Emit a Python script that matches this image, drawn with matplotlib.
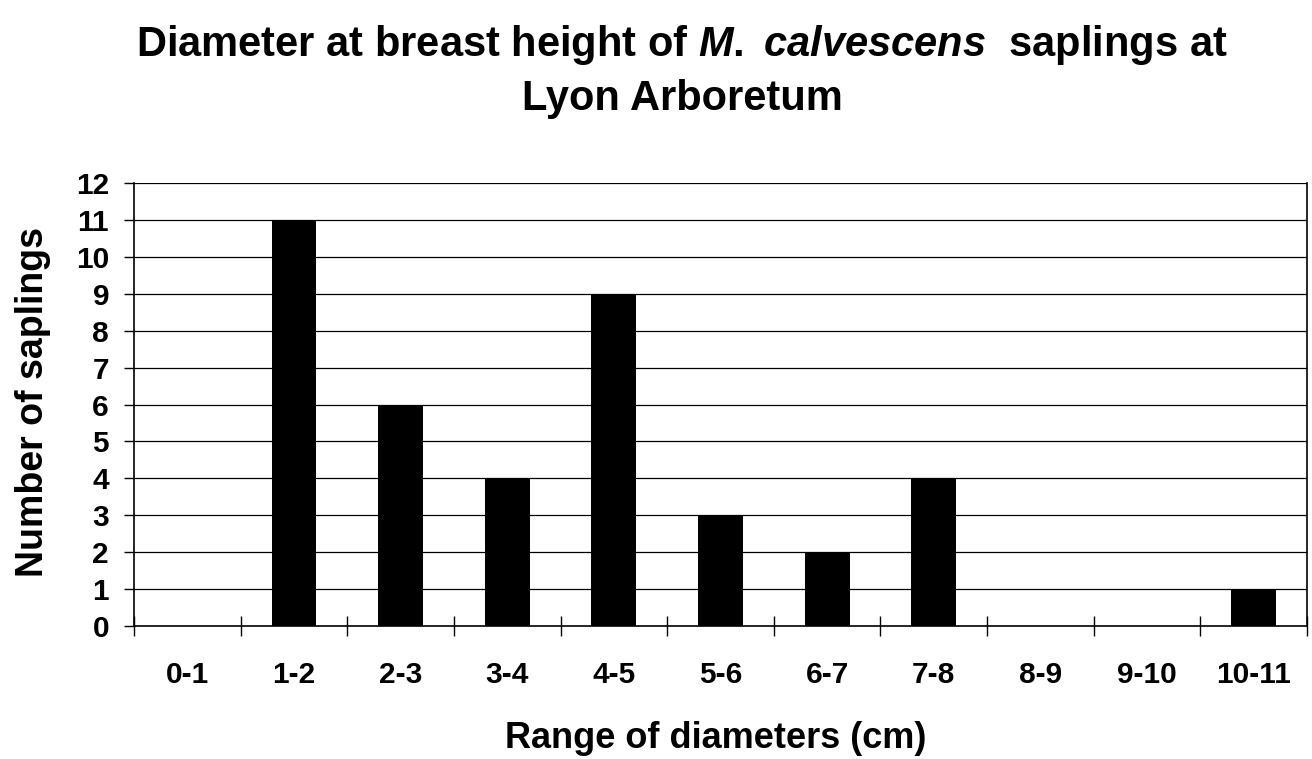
import matplotlib
matplotlib.use("Agg")
import matplotlib.pyplot as plt
import numpy as np

categories = ["0-1", "1-2", "2-3", "3-4", "4-5", "5-6", "6-7", "7-8", "8-9", "9-10", "10-11"]
counts = [0, 11, 6, 4, 9, 3, 2, 4, 0, 0, 1]
yticks = list(range(0, 13))

plt.rcParams['font.family'] = ['Liberation Sans', 'DejaVu Sans']
plt.rcParams['mathtext.fontset'] = 'custom'
plt.rcParams['mathtext.rm'] = 'Liberation Sans:bold'
plt.rcParams['mathtext.it'] = 'Liberation Sans:bold:italic'

W, H = 1312, 759
fig = plt.figure(figsize=(W / 100, H / 100), dpi=100)
ax = fig.add_axes([134 / W, 1 - 626 / H, (1307 - 134) / W, (626 - 183) / H])

x = np.arange(len(categories))
ax.bar(x, counts, width=0.42, color="black", zorder=3)

ax.set_xlim(-0.5, len(categories) - 0.5)
ax.set_ylim(0, 12)
ax.set_yticks(yticks)
ax.set_yticklabels([str(v) for v in yticks], fontsize=21.5, fontweight="bold")
for v in yticks[1:]:
    ax.axhline(v, color="black", lw=0.9, zorder=1)

ax.set_xticks(x)
ax.set_xticklabels(categories, fontsize=21.5, fontweight="bold")
ax.tick_params(axis="x", which="major", length=0, pad=25)
ax.set_xticks(np.arange(-0.5, len(categories) + 0.5, 1), minor=True)
ax.tick_params(axis="x", which="minor", direction="inout", length=14, width=1.0, color="black")
ax.tick_params(axis="y", direction="out", length=7, width=1.0, pad=11)

for s in ["left", "right", "bottom"]:
    ax.spines[s].set_linewidth(1.2)
    ax.spines[s].set_color("black")
ax.spines["top"].set_visible(False)

fig.text(33 / W, 1 - 402 / H, "Number of saplings", rotation=90, ha="center", va="center",
         fontsize=27, fontweight="bold")
fig.text(716 / W, 1 - 748 / H, "Range of diameters (cm)", ha="center", va="baseline",
         fontsize=26, fontweight="bold")

fig.text(682 / W, 1 - 56 / H, r"Diameter at breast height of $\it{M.}$ $\it{calvescens}$  saplings at",
         ha="center", va="baseline", fontsize=30, fontweight="bold")
fig.text(682 / W, 1 - 110 / H, "Lyon Arboretum", ha="center", va="baseline", fontsize=30,
         fontweight="bold")

fig.savefig("out.png", dpi=100)
